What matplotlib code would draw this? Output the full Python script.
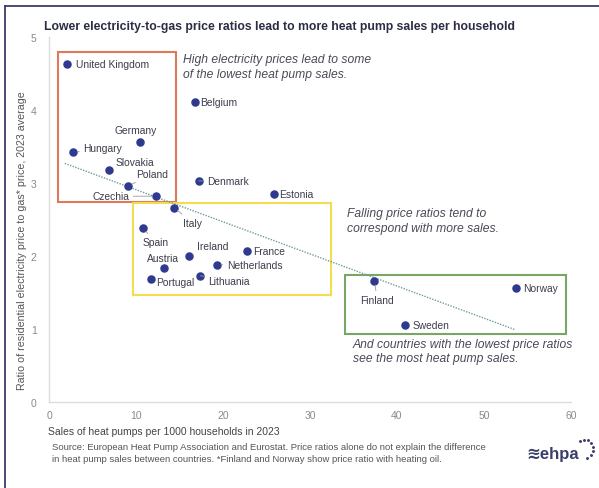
"""Heat pump sales vs electricity-to-gas price ratio, EU countries 2023."""
import numpy as np
import matplotlib
matplotlib.use('Agg')
from matplotlib import pyplot as plt
from matplotlib.lines import Line2D
from matplotlib.patches import Rectangle

plt.rcParams['font.family'] = ['Liberation Sans', 'DejaVu Sans']

# --- data ---
countries = ['United Kingdom', 'Belgium', 'Germany', 'Hungary', 'Slovakia',
             'Poland', 'Czechia', 'Italy', 'Denmark', 'Estonia', 'Spain',
             'Ireland', 'Austria', 'France', 'Netherlands', 'Portugal',
             'Lithuania', 'Finland', 'Norway', 'Sweden']
sales = [2.1, 16.8, 10.5, 2.8, 6.9, 9.1, 12.3, 14.4, 17.2, 25.9, 10.8,
         16.1, 13.2, 22.8, 19.3, 11.7, 17.4, 37.4, 53.7, 40.9]
ratios = [4.63, 4.11, 3.56, 3.42, 3.18, 2.96, 2.82, 2.66, 3.03, 2.85, 2.38,
          2.00, 1.84, 2.07, 1.88, 1.68, 1.73, 1.66, 1.56, 1.05]

trend_x = [1.8, 53.6]
trend_y = [3.27, 0.99]

x_ticks = [0, 10, 20, 30, 40, 50, 60]
y_ticks = [0, 1, 2, 3, 4, 5]

# highlight boxes: (x0, x1, y0, y1, colour)
boxes = [(1.0, 14.6, 2.74, 4.79, '#e0785a'),
         (9.7, 32.4, 1.47, 2.73, '#f2dc52'),
         (34.0, 59.4, 0.93, 1.74, '#7aa568')]

notes = [(15.4, 4.78, "High electricity prices lead to some\n"
                      "of the lowest heat pump sales."),
         (34.3, 2.67, "Falling price ratios tend to\n"
                      "correspond with more sales."),
         (34.9, 0.88, "And countries with the lowest price ratios\n"
                      "see the most heat pump sales.")]

# label offsets in pixels (dx, dy, ha, leader line?)
label_pos = {
    'United Kingdom': (9, 0, 'left', False),
    'Belgium': (5, 0, 'left', False),
    'Germany': (-5, 12, 'center', False),
    'Hungary': (10, 4, 'left', True),
    'Slovakia': (6, 8, 'left', False),
    'Poland': (8, 12, 'left', True),
    'Czechia': (-27, 0, 'right', True),
    'Italy': (9, -15, 'left', True),
    'Denmark': (8, 0, 'left', True),
    'Estonia': (5, 0, 'left', False),
    'Spain': (0, -14, 'left', True),
    'Ireland': (8, 10, 'left', True),
    'Austria': (-1, 10, 'center', False),
    'France': (6, 0, 'left', False),
    'Netherlands': (10, 0, 'left', True),
    'Portugal': (5, -3, 'left', False),
    'Lithuania': (8, -5, 'left', True),
    'Finland': (3, -19, 'center', True),
    'Norway': (7, 0, 'left', False),
    'Sweden': (8, 0, 'left', False),
}

text_col = '#3d3d4d'
dot_col = '#2f3a8f'

fig = plt.figure(figsize=(5.99, 4.89), dpi=100)
ax = fig.add_axes([0.082, 0.176, 0.871, 0.746])

ax.plot(trend_x, trend_y, linestyle=(0, (1, 1)), color='#6f9c9c',
        linewidth=1.0, zorder=2)

for x0, x1, y0, y1, col in boxes:
    ax.add_patch(Rectangle((x0, y0), x1 - x0, y1 - y0, fill=False,
                           edgecolor=col, linewidth=1.5, zorder=1))

ax.scatter(sales, ratios, s=26, color=dot_col, zorder=3)

for name, x, y in zip(countries, sales, ratios):
    dx, dy, ha, leader = label_pos[name]
    arrow = dict(arrowstyle='-', color='#9a9a9a', lw=0.6,
                 shrinkA=1, shrinkB=3) if leader else None
    ax.annotate(name, (x, y), xytext=(dx, dy), textcoords='offset pixels',
                ha=ha, va='center', fontsize=7.4, color=text_col,
                arrowprops=arrow, zorder=4)

for x, y, txt in notes:
    ax.text(x, y, txt, ha='left', va='top', fontsize=8.7, style='italic',
            color='#4a4a58', linespacing=1.3)

ax.set_xlim(0, 60)
ax.set_ylim(0, 5)
ax.set_xticks(x_ticks)
ax.set_yticks(y_ticks)
ax.tick_params(length=0, labelsize=7.5, labelcolor='#8a8a8a')
ax.tick_params(axis='y', pad=9)
ax.tick_params(axis='x', pad=6)
for side in ['top', 'right']:
    ax.spines[side].set_visible(False)
for side in ['left', 'bottom']:
    ax.spines[side].set_color('#dcdcdc')
    ax.spines[side].set_linewidth(1.0)

ax.set_ylabel("Ratio of residential electricity price to gas* price, "
              "2023 average", fontsize=7.7, color='#555555')
ax.yaxis.set_label_coords(-0.042, 0.445)

fig.text(0.074, 0.944,
         "Lower electricity-to-gas price ratios lead to more heat pump "
         "sales per household", fontsize=8.8, fontweight='bold',
         color='#2b2d45', va='center')
fig.text(0.080, 0.117, "Sales of heat pumps per 1000 households in 2023",
         fontsize=7.5, color='#444444', va='center')
fig.text(0.087, 0.072,
         "Source: European Heat Pump Association and Eurostat. Price ratios "
         "alone do not explain the difference\nin heat pump sales between "
         "countries. *Finland and Norway show price ratio with heating oil.",
         fontsize=6.8, color='#555555', va='center', linespacing=1.45)

# frame and logo
fig.add_artist(Line2D([0.0085, 0.0085], [0.0, 0.9857],
                      transform=fig.transFigure, color='#3b3d6b', lw=1.3))
fig.add_artist(Line2D([0.0085, 1.0], [0.9857, 0.9857],
                      transform=fig.transFigure, color='#3b3d6b', lw=1.3))
fig.text(0.878, 0.070, "\u224behpa", fontsize=12, fontweight='bold',
         color='#3b3d6b', va='center', ha='left')
ang = np.linspace(-70, 120, 8)
fig.add_artist(Line2D(0.975 + 0.015 * np.cos(np.radians(ang)),
                      0.080 + 0.019 * np.sin(np.radians(ang)),
                      transform=fig.transFigure, linestyle='none',
                      marker='o', markersize=1.1, color='#3b3d6b'))

fig.savefig('out.png', dpi=100, facecolor='white')
